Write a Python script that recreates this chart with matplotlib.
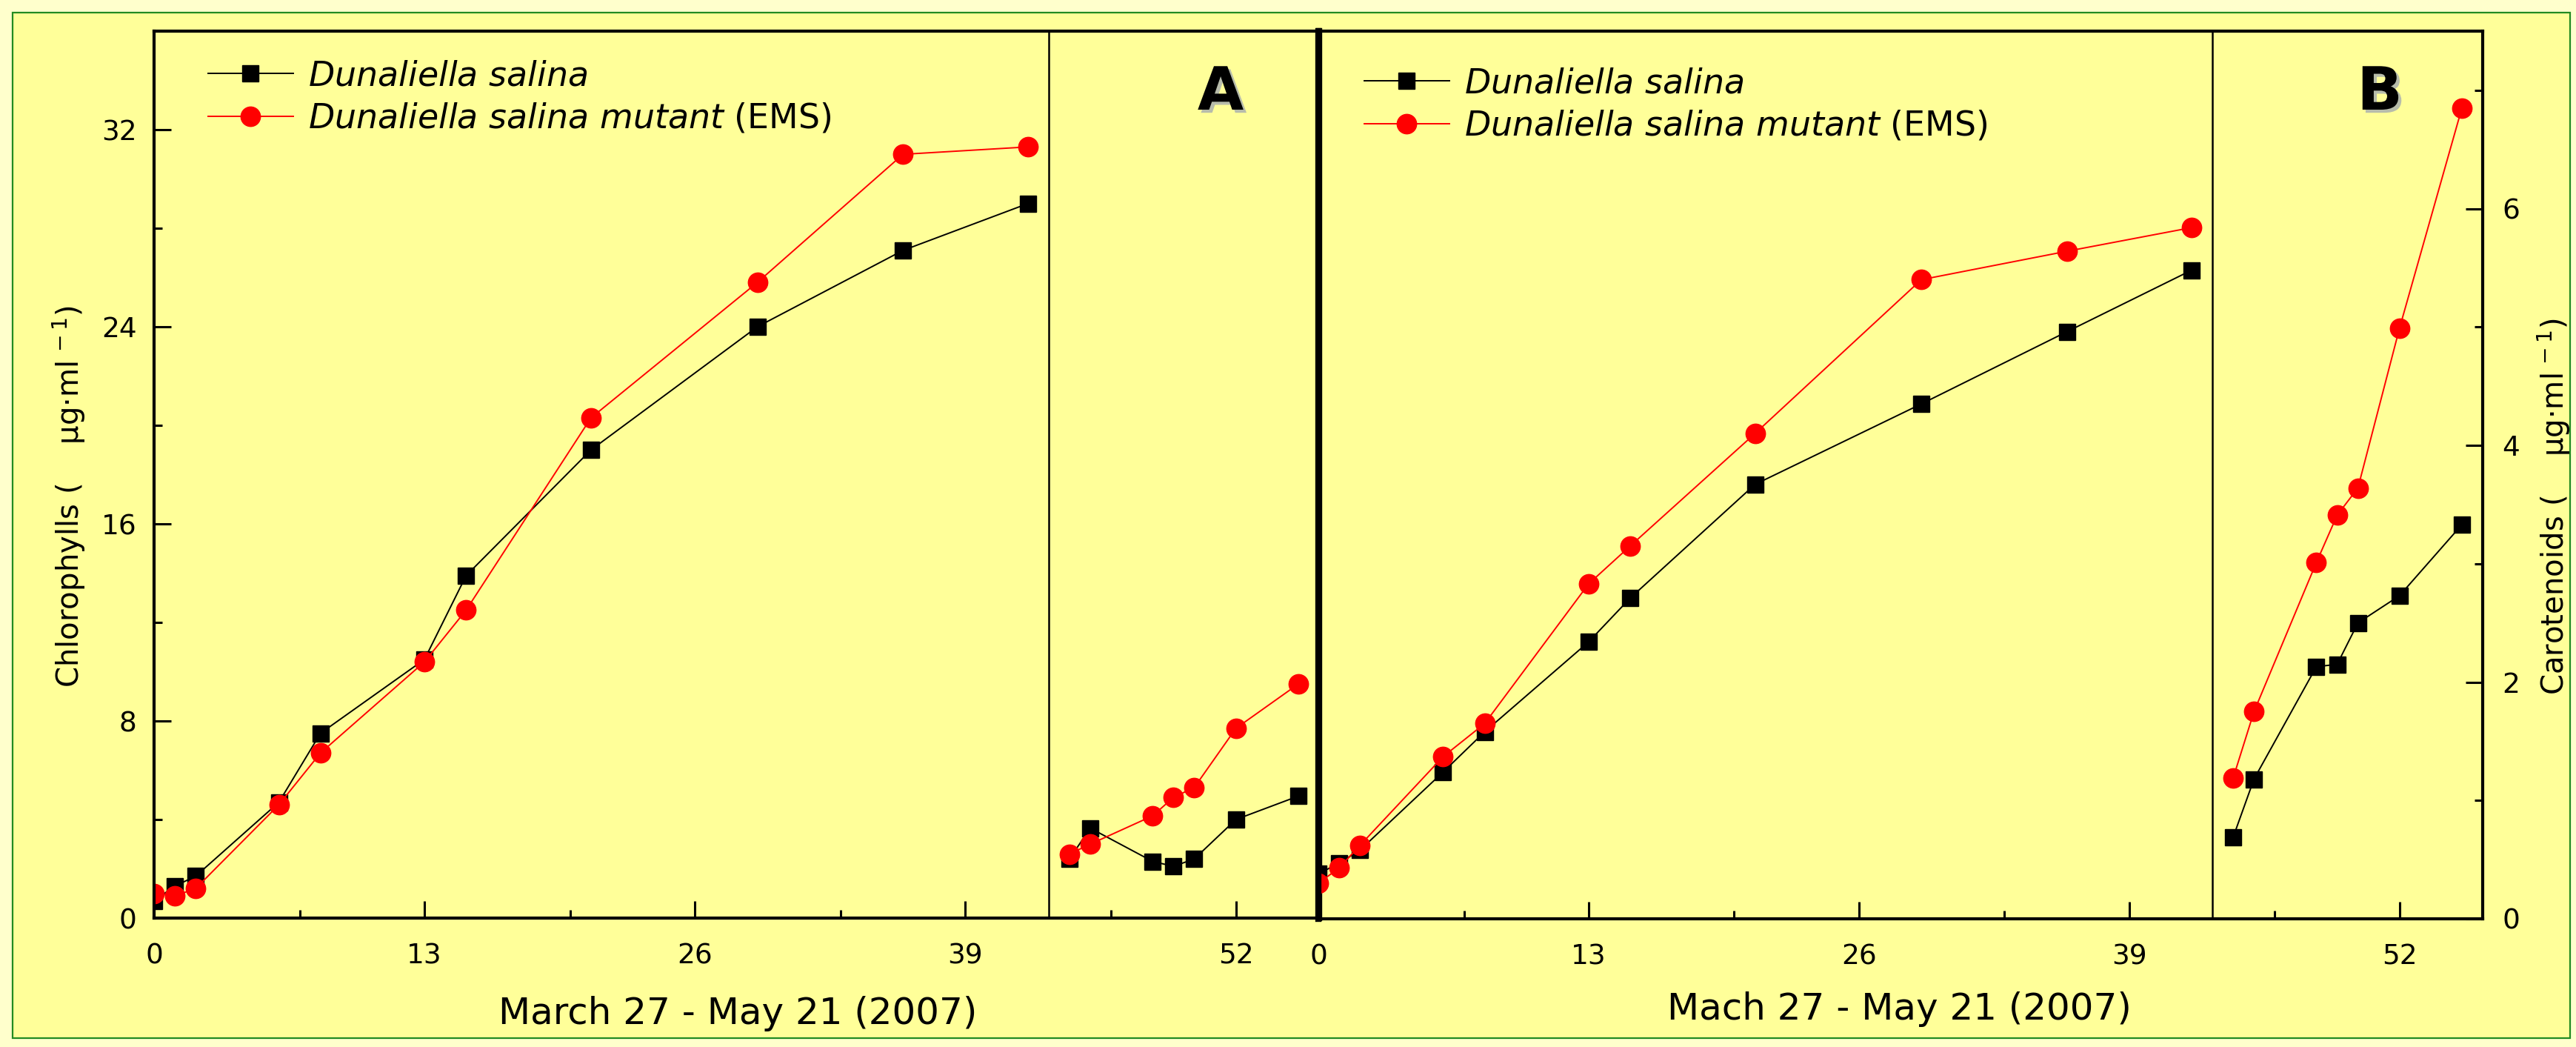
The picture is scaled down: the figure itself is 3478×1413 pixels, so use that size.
import matplotlib
matplotlib.use('Agg')
import matplotlib.pyplot as plt
import matplotlib.patheffects as pe
from matplotlib.patches import Rectangle

W, H = 3478, 1413

# days after March 27 (2007); the culture line is broken after day 42
days_early = [0, 1, 2, 6, 8, 13, 15, 21, 29, 36, 42]
days_late = [44, 45, 48, 49, 50, 52, 55]

# A: chlorophylls (ug/ml)
chl_wild_early = [0.7, 1.3, 1.7, 4.7, 7.5, 10.5, 13.9, 19.0, 24.0, 27.1, 29.0]
chl_mut_early = [1.0, 0.9, 1.2, 4.6, 6.7, 10.4, 12.5, 20.3, 25.8, 31.0, 31.3]
chl_wild_late = [2.4, 3.65, 2.3, 2.1, 2.4, 4.0, 4.95]
chl_mut_late = [2.6, 3.0, 4.15, 4.9, 5.3, 7.7, 9.5]

# B: carotenoids (ug/ml)
car_wild_early = [0.38, 0.47, 0.58, 1.24, 1.58, 2.34, 2.71, 3.67, 4.35, 4.96, 5.48]
car_mut_early = [0.30, 0.43, 0.62, 1.37, 1.65, 2.83, 3.15, 4.10, 5.40, 5.64, 5.84]
car_wild_late = [0.69, 1.18, 2.13, 2.15, 2.50, 2.73, 3.33]
car_mut_late = [1.19, 1.75, 3.01, 3.41, 3.64, 4.99, 6.85]

x_ticks = [0, 13, 26, 39, 52]
x_minor = [7, 20, 33, 46]
labels = [r'$\mathit{Dunaliella\ salina}$',
          r'$\mathit{Dunaliella\ salina\ mutant}$ (EMS)']


def px_axes(fig, left, right, top, bottom):
    return fig.add_axes([left / W, 1 - bottom / H, (right - left) / W, (bottom - top) / H])


def draw_series(ax, wild_e, mut_e, wild_l, mut_l):
    h1, = ax.plot(days_early, wild_e, 's-', color='black', ms=16.5, lw=1.4)
    ax.plot(days_late, wild_l, 's-', color='black', ms=16.5, lw=1.4)
    h2, = ax.plot(days_early, mut_e, 'o-', color='red', ms=19, lw=1.4)
    ax.plot(days_late, mut_l, 'o-', color='red', ms=19, lw=1.4)
    ax.axvline(43, color='black', lw=1.8)
    return [h1, h2]


def style(ax):
    ax.set_facecolor('none')
    ax.set_xlim(0, 56)
    ax.set_xticks(x_ticks)
    ax.set_xticks(x_minor, minor=True)
    for s in ax.spines.values():
        s.set_linewidth(3)
    ax.tick_params(which='both', direction='in', width=2.2, labelsize=27)
    ax.tick_params(which='major', length=16.5)
    ax.tick_params(which='minor', length=8)
    ax.tick_params(axis='x', pad=24)


fig = plt.figure(figsize=(W / 100, H / 100), dpi=100, facecolor='#FFFFCC')
fig.patches.append(Rectangle((17 / W, 12 / H), 3453 / W, 1384 / H, transform=fig.transFigure,
                             facecolor='#FFFF99', edgecolor='#228B22', lw=1.6, zorder=-10))

axA = px_axes(fig, 208, 1781, 42, 1239)
axB = px_axes(fig, 1780, 3352, 42, 1240)

hA = draw_series(axA, chl_wild_early, chl_mut_early, chl_wild_late, chl_mut_late)
hB = draw_series(axB, car_wild_early, car_mut_early, car_wild_late, car_mut_late)

style(axA)
axA.set_ylim(0, 36)
axA.set_yticks([0, 8, 16, 24, 32])
axA.set_yticks([4, 12, 20, 28], minor=True)
axA.tick_params(axis='y', pad=17)
axA.spines['right'].set_linewidth(6)

style(axB)
axB.set_ylim(0, 7.5)
axB.yaxis.tick_right()
axB.set_yticks([0, 2, 4, 6])
axB.set_yticks([1, 3, 5, 7], minor=True)
axB.tick_params(axis='y', pad=19)
axB.spines['left'].set_linewidth(6)

legend_kw = dict(loc='upper left', bbox_transform=fig.transFigure, frameon=False, fontsize=33,
                 handlelength=2.5, handletextpad=0.45, borderpad=0, borderaxespad=0,
                 labelspacing=0.28)
axA.legend(hA, labels, bbox_to_anchor=(281 / W, 1 - 80 / H), **legend_kw)
axB.legend(hB, labels, bbox_to_anchor=(1842 / W, 1 - 90 / H), **legend_kw)

shadow = [pe.SimplePatchShadow(offset=(3, -3), shadow_rgbFace='#8890b8', alpha=0.6), pe.Normal()]
fig.text(1648 / W, 1 - 126 / H, 'A', fontsize=58, fontweight='bold', ha='center', va='center',
         path_effects=shadow)
fig.text(3213 / W, 1 - 126 / H, 'B', fontsize=58, fontweight='bold', ha='center', va='center',
         path_effects=shadow)

fig.text(996 / W, 1 - 1382 / H, 'March 27 - May 21 (2007)', fontsize=36, ha='center', va='baseline')
fig.text(2564 / W, 1 - 1376 / H, 'Mach 27 - May 21 (2007)', fontsize=36, ha='center', va='baseline')

fig.text(107 / W, 1 - 670 / H, r'Chlorophylls (    μg·ml$^{\,-1}$)', fontsize=29, rotation=90,
         rotation_mode='anchor', ha='center', va='baseline')
fig.text(3462 / W, 1 - 683 / H, r'Carotenoids (    μg·ml$^{\,-1}$)', fontsize=29, rotation=90,
         rotation_mode='anchor', ha='center', va='baseline')

fig.savefig('out.png', dpi=100, facecolor=fig.get_facecolor())
